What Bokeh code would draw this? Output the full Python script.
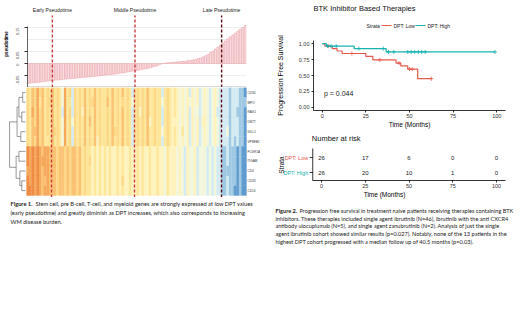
import numpy as np
from bokeh.plotting import figure
from bokeh.layouts import row, column
from bokeh.models import Range1d, FixedTicker, Span, NumeralTickFormatter
from bokeh.core.properties import value
from bokeh.embed import file_html
from bokeh.resources import INLINE

FONT = "Liberation Sans"
CAP_FONT = "Lato"

# ---------------- Figure 1 data ----------------
pseudotime_dpt = [
    -0.083, -0.081, -0.080, -0.079, -0.078, -0.077, -0.075, -0.074, -0.073, -0.071,
    -0.070, -0.069, -0.068, -0.067, -0.066, -0.065, -0.064, -0.063, -0.062, -0.061,
    -0.060, -0.059, -0.058, -0.057, -0.056, -0.055, -0.054, -0.053, -0.052, -0.050,
    -0.049, -0.048, -0.047, -0.046, -0.045, -0.043, -0.042, -0.040, -0.039, -0.037,
    -0.035, -0.033, -0.031, -0.030, -0.028, -0.026, -0.024, -0.022, -0.020, -0.017,
    -0.014, -0.011, -0.007, -0.003, 0.000, 0.002, 0.003, 0.004, 0.005, 0.006,
    0.007, 0.008, 0.009, 0.010, 0.012, 0.013, 0.015, 0.017, 0.020, 0.023,
    0.027, 0.032, 0.038, 0.045, 0.052, 0.060, 0.068, 0.077, 0.085, 0.094,
    0.103, 0.111, 0.119, 0.127, 0.135, 0.143, 0.150, 0.158,
]
phase_cols = [9.5, 42.7, 77.5]
phase_labels = ["Early Pseudotime", "Middle Pseudotime", "Late Pseudotime"]
phase_colors = ["#c93a3e", "#c93a3e", "#5c0c16"]
bar_ticks = [-0.05, 0, 0.05, 0.15]
bar_grid = [-0.05, 0, 0.05, 0.1, 0.15]

genes = ["CD34", "MPO", "RAG1", "DNTT", "IGLL1", "VPREB1",
         "FCGR1A", "ITGAM", "CD4", "CD33", "CD14"]
# expression level per gene (row) and sample (column), 0 = low (blue) ... 9 = high (orange)
heat_levels = [
    "6576867565" "7565385626" "5657565756" "5565756575" "6525656575" "5655256545" "4343424342" "34323432" "22212221" "10",
    "6576857566" "7565385526" "5657566756" "5575756565" "6535656575" "5655356545" "4343434342" "34323432" "22212221" "11",
    "6586867565" "7565285626" "5647565756" "5565756575" "6525646575" "5655256545" "4343424332" "34323422" "22212211" "10",
    "6576867565" "7565385636" "5657575756" "5565756575" "6525656574" "5655256544" "4343424342" "44323432" "22212221" "10",
    "6577867565" "7665385626" "5657565756" "5565766575" "6525656575" "5655356545" "4353424342" "34323432" "22312221" "10",
    "6576867555" "7565385626" "5657565746" "5565756575" "6525656575" "5655256545" "4343424342" "34323432" "22212121" "10",
    "9898987887" "7767767677" "6756554545" "4545445454" "4544545445" "4454435444" "3432433423" "33232322" "11211101" "00",
    "9898988887" "7767767677" "6756564545" "4545445454" "4544545445" "4454435444" "3432433423" "33232322" "11211101" "00",
    "8898987887" "7767767677" "6756554545" "4545445454" "4544545445" "4454435444" "3432433423" "33232322" "11111101" "00",
    "9898987787" "7767767677" "6756554545" "4545445464" "4544545445" "4454435444" "3432433423" "33232322" "11211101" "00",
    "9998987887" "7767767677" "6756554545" "4545445454" "4544545445" "4454435444" "3432433423" "33232322" "11211001" "00",
]
heat_palette = ["#5f9bcf", "#9fc9e3", "#d4ebf3", "#f2f7dc", "#fff3bd",
                "#fee69a", "#fdd887", "#fac272", "#f6a85b", "#ef8c45"]
# hierarchical clustering merges (child a, child b, height)
dendro_merges = [(0, 1, 0.15), (2, 3, 0.20), (4, 5, 0.25), (11, 12, 0.35), (14, 13, 0.45),
                 (9, 10, 0.20), (8, 16, 0.30), (6, 7, 0.35), (18, 17, 0.50), (15, 19, 0.85)]

caption1 = [
    ("Figure 1.", " Stem cell, pre B-cell, T-cell, and myeloid genes are strongly expressed at low DPT values"),
    ("", "(early pseudotime) and greatly diminish as DPT  increases, which also corresponds to increasing"),
    ("", "WM disease burden."),
]

# ---------------- Figure 2 data ----------------
km_title = "BTK Inhibitor Based Therapies"
strata = ["DPT: Low", "DPT: High"]
strata_colors = ["#e5594f", "#17b3ae"]
km_low_t = [0, 1.5, 5.7, 8.5, 11.4, 25.0, 29.0, 42.3, 45.0, 49.0, 54.7, 62.5]
km_low_s = [1.0, 0.962, 0.923, 0.885, 0.846, 0.80, 0.745, 0.695, 0.65, 0.60, 0.45, 0.45]
km_low_cens = [3.5, 17.0, 33.0, 44.0, 50.0, 51.5, 62.5]
km_high_t = [0, 2.3, 18.3, 36.6, 99.0]
km_high_s = [1.0, 0.962, 0.923, 0.87, 0.87]
km_high_cens = [3.0, 5.0, 8.0, 21.0, 35.0, 38.0, 41.0, 49.0, 51.0, 53.0, 55.0, 57.0, 59.0, 99.0]
p_value_text = "p = 0.044"
risk_times = [0, 25, 50, 75, 100]
risk_low = [26, 17, 6, 0, 0]
risk_high = [26, 20, 10, 1, 0]
surv_ticks = [0, 0.25, 0.5, 0.75, 1.0]

caption2 = [
    ("Figure 2.", " Progression free survival in treatment naive patients receiving therapies containing BTK"),
    ("", "inhibitors. These therapies included single agent ibrutinib (N=46), ibrutinib with the anti CXCR4"),
    ("", "antibody ulocuplumab (N=5), and single agent zanubrutinib (N=2). Analysis of just the single"),
    ("", "agent ibrutinib cohort showed similar results (p=0.027). Notably, none of the 13 patients in the"),
    ("", "highest DPT cohort progressed with a median follow up of 40.5 months (p=0.03)."),
]


def make_fig(w, h, xr, yr, left=0, right=0, top=0, bottom=0, xloc=None, yloc=None):
    p = figure(width=w, height=h, x_range=xr, y_range=yr, output_backend="svg",
               toolbar_location=None, title=None, x_axis_location=xloc, y_axis_location=yloc,
               min_border_left=left, min_border_right=right, min_border_top=top,
               min_border_bottom=bottom)
    p.frame_align = False
    p.outline_line_color = None
    p.background_fill_color = "white"
    p.border_fill_color = "white"
    p.grid.visible = False
    return p


def style_axis(ax, font_size="5.5px", label_size="6.5px"):
    ax.axis_line_color = "black"
    ax.axis_line_width = 0.8
    ax.major_tick_line_color = "black"
    ax.major_tick_line_width = 0.8
    ax.major_tick_in = 0
    ax.major_tick_out = 2
    ax.minor_tick_line_color = None
    ax.major_label_text_font = FONT
    ax.major_label_text_font_size = font_size
    ax.major_label_text_color = "#333333"
    ax.axis_label_text_font = FONT
    ax.axis_label_text_font_size = label_size
    ax.axis_label_text_font_style = "normal"
    ax.axis_label_text_color = "black"


def draw_caption(p, lines, x0, y0, dy, bold_w, size):
    for k, (bold, rest) in enumerate(lines):
        y = y0 + k * dy
        if bold:
            p.text(x=[x0], y=[y], text=[bold], text_font=value(CAP_FONT), text_font_size=size,
                   text_font_style="bold", text_baseline="middle", text_color="#222222")
            p.text(x=[x0 + bold_w], y=[y], text=[rest], text_font=value(CAP_FONT),
                   text_font_size=size, text_baseline="middle", text_color="#222222")
        else:
            p.text(x=[x0], y=[y], text=[rest], text_font=value(CAP_FONT), text_font_size=size,
                   text_baseline="middle", text_color="#222222")


n = len(pseudotime_dpt)
idx = list(range(n))

# ---------------- pseudotime bar chart ----------------
p_bar = make_fig(260, 87, Range1d(-0.5, n - 0.5), Range1d(-0.1, 0.2625),
                 left=26, right=14, yloc="left")
p_bar.ygrid.visible = True
p_bar.ygrid.ticker = FixedTicker(ticks=bar_grid)
p_bar.ygrid.grid_line_color = "#e4e4e4"
p_bar.ygrid.grid_line_width = 0.6
p_bar.vbar(x=idx, top=pseudotime_dpt, bottom=0, width=0.75,
           fill_color="#fbe2e4", line_color="#e9a3a9", line_width=0.6)
ya = p_bar.yaxis[0]
style_axis(ya, "4px", "4.5px")
ya.ticker = FixedTicker(ticks=bar_ticks)
ya.formatter = NumeralTickFormatter(format="0.00")
ya.major_label_overrides = {0: "0"}
ya.major_label_orientation = np.pi / 2
ya.major_tick_out = 3
ya.major_label_standoff = 7
ya.axis_line_width = 0.6
ya.bounds = (-0.1, 0.155)
ya.axis_label = "pseudotime"
ya.axis_label_standoff = 3
ya.axis_label_text_font_style = "bold"
p_bar.add_layout(Span(location=-0.0985, dimension="width", line_color="#888888", line_width=0.8))
p_bar.segment(x0=phase_cols, y0=[-0.1] * 3, x1=phase_cols, y1=[0.2] * 3,
              line_color=phase_colors, line_width=1.4, line_dash="3 2")
p_bar.text(x=phase_cols, y=[0.224] * 3, text=phase_labels, text_font=value(FONT),
           text_font_size="5px", text_align="center", text_baseline="middle", text_color="#222222")

# ---------------- heatmap with dendrogram ----------------
p_heat = make_fig(260, 110, Range1d(-8.5, 93.1), Range1d(-0.2, 11), left=6)
hx, hy, hc = [], [], []
for r, levels in enumerate(heat_levels):
    for c, ch in enumerate(levels):
        hx.append(c)
        hy.append(10.5 - r)
        hc.append(heat_palette[int(ch)])
p_heat.rect(x=hx, y=hy, width=1, height=1, fill_color=hc, line_color=hc, line_width=0.3)
p_heat.segment(x0=phase_cols, y0=[-0.2] * 3, x1=phase_cols, y1=[11] * 3,
               line_color=phase_colors, line_width=1.4, line_dash="3 2")
p_heat.text(x=[n - 0.1] * len(genes), y=[10.5 - i for i in range(len(genes))], text=genes,
            text_font=value(FONT), text_font_size="3.1px", text_baseline="middle",
            text_color="#333333")

# dendrogram
node_y = {i: 10.5 - i for i in range(len(genes))}
node_h = {i: 0.0 for i in range(len(genes))}


def hx_of(h):
    return -0.9 - h * 7.5


dx0, dy0, dx1, dy1 = [], [], [], []
nid = len(genes)
for a, b, h in dendro_merges:
    for ch in (a, b):
        dx0.append(hx_of(node_h[ch])); dy0.append(node_y[ch])
        dx1.append(hx_of(h)); dy1.append(node_y[ch])
    dx0.append(hx_of(h)); dy0.append(node_y[a]); dx1.append(hx_of(h)); dy1.append(node_y[b])
    node_y[nid] = (node_y[a] + node_y[b]) / 2
    node_h[nid] = h
    nid += 1
p_heat.segment(x0=dx0, y0=dy0, x1=dx1, y1=dy1, line_color="#555555", line_width=0.6)

# ---------------- caption 1 ----------------
p_cap1 = make_fig(260, 114, Range1d(0, 260), Range1d(114, 0))
draw_caption(p_cap1, caption1, 10, 6, 9, 25, "5.7px")

left_col = column(p_bar, p_heat, p_cap1)

# ---------------- KM header: title + legend ----------------
p_head = make_fig(260, 30, Range1d(0, 260), Range1d(30, 0))
p_head.text(x=[53], y=[8], text=[km_title], text_font=value(FONT), text_font_size="7.5px",
            text_baseline="middle", text_color="#111111")
p_head.text(x=[106], y=[25], text=["Strata"], text_font=value(FONT), text_font_size="5px",
            text_baseline="middle", text_color="#222222")
p_head.segment(x0=[121, 155], y0=[25, 25], x1=[131, 165], y1=[25, 25],
               line_color=strata_colors, line_width=1.2)
p_head.text(x=[133, 167], y=[25, 25], text=strata, text_font=value(FONT), text_font_size="5px",
            text_baseline="middle", text_color="#222222")

# ---------------- KM plot ----------------
p_km = make_fig(260, 100, Range1d(-5, 105), Range1d(-0.05, 1.05),
                left=53, right=15, top=10, bottom=18, xloc="below", yloc="left")
for t, s, cens, col in ((km_low_t, km_low_s, km_low_cens, strata_colors[0]),
                        (km_high_t, km_high_s, km_high_cens, strata_colors[1])):
    p_km.step(x=t, y=s, mode="after", line_color=col, line_width=1.2)
    ta = np.array(t)
    sa = np.array(s)
    cy = [sa[max(np.searchsorted(ta, c, side="right") - 1, 0)] for c in cens]
    p_km.scatter(x=cens, y=cy, marker="cross", size=4, line_color=col, line_width=0.8)
p_km.text(x=[1], y=[0.21], text=[p_value_text], text_font=value(FONT), text_font_size="7px",
          text_baseline="middle", text_color="#222222")
for ax in (p_km.xaxis[0], p_km.yaxis[0]):
    style_axis(ax)
p_km.xaxis[0].ticker = FixedTicker(ticks=risk_times)
p_km.yaxis[0].ticker = FixedTicker(ticks=surv_ticks)
p_km.yaxis[0].formatter = NumeralTickFormatter(format="0.00")
p_km.xaxis[0].axis_label = "Time (Months)"
p_km.yaxis[0].axis_label = "Progression Free Survival"
p_km.xaxis[0].major_label_standoff = 1
p_km.xaxis[0].axis_label_standoff = 0
p_km.yaxis[0].major_label_standoff = 2
p_km.yaxis[0].axis_label_standoff = 12
p_km.yaxis[0].axis_label_text_font_size = "7px"

# ---------------- risk table ----------------
p_risk = make_fig(260, 72, Range1d(-33.7, 105.7), Range1d(0.467, 3.8),
                  left=2, right=14, bottom=22, xloc="below")
style_axis(p_risk.xaxis[0])
p_risk.xaxis[0].ticker = FixedTicker(ticks=risk_times)
p_risk.xaxis[0].bounds = (-5, 105)
p_risk.xaxis[0].axis_label = "Time (Months)"
p_risk.xaxis[0].major_label_standoff = 1
p_risk.xaxis[0].axis_label_standoff = 0
rows_y = [2, 1]
for yv, counts, col in zip(rows_y, (risk_low, risk_high), strata_colors):
    p_risk.text(x=risk_times, y=[yv] * len(risk_times), text=[str(c) for c in counts],
                text_font=value(FONT), text_font_size="6px", text_align="center",
                text_baseline="middle", text_color="#222222")
p_risk.text(x=[-7.6, -7.6], y=rows_y, text=strata, text_font=value(FONT), text_font_size="5.5px",
            text_align="right", text_baseline="middle", text_color=strata_colors)
p_risk.segment(x0=[-5], y0=[0.467], x1=[-5], y1=[2.6], line_color="black", line_width=0.8)
p_risk.segment(x0=[-6.7, -6.7], y0=rows_y, x1=[-5, -5], y1=rows_y, line_color="black",
               line_width=0.8)
p_risk.text(x=[-23], y=[1.5], text=["Strata"], angle=np.pi / 2, text_font=value(FONT),
            text_font_size="6.5px", text_align="center", text_baseline="middle",
            text_color="black")
p_risk.text(x=[-5.5], y=[3.27], text=["Number at risk"], text_font=value(FONT),
            text_font_size="7.5px", text_baseline="middle", text_color="#111111")

# ---------------- caption 2 ----------------
p_cap2 = make_fig(260, 109, Range1d(0, 260), Range1d(109, 0))
draw_caption(p_cap2, caption2, 15, 8, 7.7, 24, "5.6px")

right_col = column(p_head, p_km, p_risk, p_cap2)
layout = row(left_col, right_col)

open("out.html", "w").write(file_html(layout, INLINE))
